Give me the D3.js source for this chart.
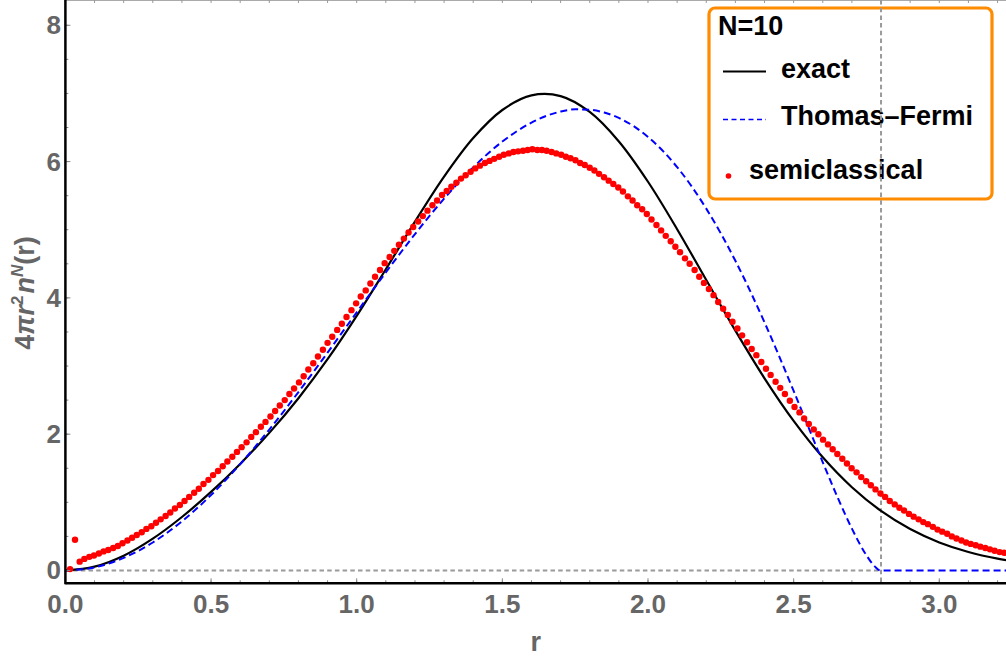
<html><head>
<title>N=10 density</title>
<script src="https://cdn.jsdelivr.net/npm/d3@7"></script>
<style>
  body { margin: 0; background: #fff; }
  text { font-family: "Liberation Sans", Arial, sans-serif; font-weight: bold; }
</style>
</head>
<body>
<div id="chart"></div>

<script>
    const svgWidth = 1006;
    const svgHeight = 657;
    const plotLeft = 65.4, plotRight = 1006, plotTop = 0, plotBottom = 583.3;

    // tick labels
    const xTicks = [0, 0.5, 1.0, 1.5, 2.0, 2.5, 3.0];
    const xTickLabels = ["0.0", "0.5", "1.0", "1.5", "2.0", "2.5", "3.0"];
    const yTicks = [0, 2, 4, 6, 8];
    const yTickLabels = ["0", "2", "4", "6", "8"];

    // exact curve (r, value)
    const exactR = [0, 0.1, 0.2, 0.3, 0.4, 0.5, 0.6, 0.7, 0.8, 0.9, 1.0, 1.1, 1.2, 1.3, 1.4, 1.5, 1.6,
        1.7, 1.8, 1.9, 2.0, 2.1, 2.2, 2.3, 2.4, 2.5, 2.6, 2.7, 2.8, 2.9, 3.0, 3.1, 3.2, 3.3];
    const exactVal = [0, 0.056, 0.217, 0.467, 0.785, 1.153, 1.564, 2.019, 2.528, 3.100, 3.736, 4.420,
        5.118, 5.779, 6.345, 6.757, 6.971, 6.961, 6.728, 6.295, 5.704, 5.008, 4.262, 3.519, 2.820,
        2.195, 1.661, 1.222, 0.874, 0.608, 0.412, 0.272, 0.175, 0.110];

    // Thomas-Fermi curve
    const tfR = [0, 0.1, 0.2, 0.3, 0.4, 0.5, 0.6, 0.7, 0.8, 0.9, 1.0, 1.1, 1.2, 1.3, 1.4, 1.5, 1.6,
        1.7, 1.75, 1.8, 1.85, 1.9, 2.0, 2.1, 2.2, 2.3, 2.4, 2.5, 2.55, 2.6, 2.65, 2.7, 2.75, 2.78, 2.798,
        2.9, 3.0, 3.1, 3.2, 3.3];
    const tfVal = [0, 0.046, 0.185, 0.411, 0.721, 1.107, 1.560, 2.068, 2.618, 3.197, 3.788, 4.374,
        4.936, 5.456, 5.915, 6.294, 6.572, 6.734, 6.767, 6.761, 6.719, 6.641, 6.362, 5.919, 5.310, 4.544, 3.640,
        2.634, 2.111, 1.588, 1.081, 0.614, 0.222, 0.053, 0,
        0, 0, 0, 0, 0];

    // semiclassical points
    const semiR = [0.016,0.033,0.049,0.065,0.082,0.098,0.115,0.131,0.147,0.164,
        0.180,0.196,0.213,0.229,0.245,0.262,0.278,0.295,0.311,0.327,
        0.344,0.360,0.376,0.393,0.409,0.425,0.442,0.458,0.474,0.491,
        0.507,0.524,0.540,0.556,0.573,0.589,0.605,0.622,0.638,0.654,
        0.671,0.687,0.704,0.720,0.736,0.753,0.769,0.785,0.802,0.818,
        0.834,0.851,0.867,0.884,0.900,0.916,0.933,0.949,0.965,0.982,
        0.998,1.014,1.031,1.047,1.063,1.080,1.096,1.113,1.129,1.145,
        1.162,1.178,1.194,1.211,1.227,1.243,1.260,1.276,1.293,1.309,
        1.325,1.342,1.358,1.374,1.391,1.407,1.423,1.440,1.456,1.472,
        1.489,1.505,1.522,1.538,1.554,1.571,1.587,1.603,1.620,1.636,
        1.652,1.669,1.685,1.702,1.718,1.734,1.751,1.767,1.783,1.800,
        1.816,1.832,1.849,1.865,1.881,1.898,1.914,1.931,1.947,1.963,
        1.980,1.996,2.012,2.029,2.045,2.061,2.078,2.094,2.110,2.127,
        2.143,2.160,2.176,2.192,2.209,2.225,2.241,2.258,2.274,2.290,
        2.307,2.323,2.340,2.356,2.372,2.389,2.405,2.421,2.438,2.454,
        2.470,2.487,2.503,2.520,2.536,2.552,2.569,2.585,2.601,2.618,
        2.634,2.650,2.667,2.683,2.699,2.716,2.732,2.749,2.765,2.781,
        2.798,2.814,2.830,2.847,2.863,2.879,2.896,2.912,2.929,2.945,
        2.961,2.978,2.994,3.010,3.027,3.043,3.059,3.076,3.092,3.108,
        3.125,3.141,3.158,3.174,3.190,3.207,3.223];
    const semiVal = [0.02,0.45,0.13,0.17,0.20,0.22,0.25,0.28,0.30,0.33,
        0.36,0.40,0.44,0.48,0.52,0.56,0.61,0.65,0.70,0.75,
        0.80,0.85,0.91,0.96,1.02,1.08,1.14,1.20,1.27,1.33,
        1.40,1.46,1.53,1.60,1.67,1.74,1.81,1.88,1.96,2.03,
        2.11,2.18,2.26,2.34,2.42,2.50,2.59,2.67,2.76,2.85,
        2.95,3.04,3.14,3.24,3.34,3.43,3.53,3.62,3.72,3.82,
        3.92,4.02,4.11,4.21,4.31,4.41,4.51,4.60,4.69,4.78,
        4.87,4.96,5.04,5.12,5.20,5.28,5.36,5.43,5.51,5.57,
        5.63,5.69,5.75,5.80,5.85,5.90,5.94,5.98,6.01,6.04,
        6.07,6.10,6.12,6.14,6.15,6.16,6.17,6.18,6.17,6.17,
        6.16,6.14,6.12,6.10,6.07,6.05,6.02,5.98,5.95,5.91,
        5.87,5.82,5.77,5.72,5.67,5.62,5.56,5.49,5.43,5.36,
        5.30,5.23,5.15,5.07,4.99,4.91,4.83,4.75,4.67,4.58,
        4.50,4.41,4.31,4.22,4.13,4.04,3.94,3.84,3.75,3.65,
        3.55,3.45,3.35,3.25,3.16,3.06,2.96,2.87,2.77,2.68,
        2.59,2.49,2.40,2.32,2.23,2.15,2.07,2.00,1.92,1.85,
        1.78,1.71,1.64,1.57,1.50,1.44,1.37,1.31,1.25,1.19,
        1.13,1.08,1.02,0.97,0.92,0.88,0.83,0.79,0.75,0.71,
        0.68,0.64,0.60,0.57,0.54,0.50,0.47,0.44,0.41,0.39,
        0.37,0.35,0.33,0.31,0.29,0.27,0.26];

    const edgeR = 2.8;   // vertical reference line
    const legendItems = ["exact", "Thomas\u2013Fermi", "semiclassical"];

    const labelGray = "#666666";

    const svg = d3.select("#chart").append("svg")
        .attr("width", svgWidth)
        .attr("height", svgHeight);

    const xScale = d3.scaleLinear().domain([0, 3.229]).range([plotLeft, plotRight]);
    const yScale = d3.scaleLinear().domain([-0.188, 8.371]).range([plotBottom, plotTop]);

    svg.append("defs").append("clipPath").attr("id", "plotclip")
        .append("rect")
        .attr("x", plotLeft).attr("y", plotTop)
        .attr("width", plotRight - plotLeft).attr("height", plotBottom - plotTop);

    // frame top (gray) with small ticks
    let frame = svg.append("g").attr("id", "frame");
    frame.append("line")
        .attr("x1", plotLeft).attr("x2", plotRight)
        .attr("y1", 0.5).attr("y2", 0.5)
        .attr("stroke", "#aaaaaa").attr("stroke-width", 1);
    frame.selectAll(".topTick")
        .data(d3.range(0.1, 3.25, 0.1))
        .enter().append("line")
        .attr("x1", d => xScale(d)).attr("x2", d => xScale(d))
        .attr("y1", 0).attr("y2", 3)
        .attr("stroke", "#999").attr("stroke-width", 1);

    // legend (drawn first; the dotted r=2.8 line runs over it)
    let legend = svg.append("g").attr("id", "legend");
    legend.append("rect")
        .attr("x", 709).attr("y", 8)
        .attr("width", 283).attr("height", 191)
        .attr("rx", 6).attr("ry", 6)
        .attr("fill", "#fff")
        .attr("stroke", "#ff8c00")
        .attr("stroke-width", 3.2);
    legend.append("text")
        .attr("x", 718).attr("y", 35)
        .attr("font-size", 27)
        .attr("fill", "#000")
        .text("N=10");

    legend.append("line")
        .attr("x1", 723).attr("x2", 766)
        .attr("y1", 71.5).attr("y2", 71.5)
        .attr("stroke", "#000").attr("stroke-width", 2);
    legend.append("text")
        .attr("x", 781).attr("y", 77.5)
        .attr("font-size", 27).attr("fill", "#000")
        .text(legendItems[0]);

    legend.append("line")
        .attr("x1", 723).attr("x2", 766)
        .attr("y1", 119.5).attr("y2", 119.5)
        .attr("stroke", "#0000ff").attr("stroke-width", 1.6)
        .attr("stroke-dasharray", "5,3.5");
    legend.append("text")
        .attr("x", 781).attr("y", 124.5)
        .attr("font-size", 27).attr("fill", "#000")
        .text(legendItems[1]);

    legend.append("circle")
        .attr("cx", 728.5).attr("cy", 176)
        .attr("r", 2.8)
        .attr("fill", "#ff0000");
    legend.append("text")
        .attr("x", 749).attr("y", 178.5)
        .attr("font-size", 27).attr("fill", "#000")
        .text(legendItems[2]);

    // reference lines
    const plot = svg.append("g").attr("clip-path", "url(#plotclip)");
    plot.append("line")
        .attr("x1", plotLeft).attr("x2", xScale(edgeR))
        .attr("y1", yScale(0)).attr("y2", yScale(0))
        .attr("stroke", "#9a9a9a").attr("stroke-width", 2)
        .attr("stroke-dasharray", "4.5,3.2");
    plot.append("line")
        .attr("x1", xScale(edgeR)).attr("x2", xScale(edgeR))
        .attr("y1", plotTop).attr("y2", plotBottom)
        .attr("stroke", "#9a9a9a").attr("stroke-width", 2)
        .attr("stroke-dasharray", "4.5,3.2");

    const smoothLine = d3.line()
        .x(d => xScale(d[0]))
        .y(d => yScale(d[1]))
        .curve(d3.curveCatmullRom.alpha(0.5));
    const edgeLine = d3.line()
        .x(d => xScale(d[0]))
        .y(d => yScale(d[1]))
        .curve(d3.curveMonotoneX);

    // exact
    plot.append("path")
        .datum(exactR.map((r, i) => [r, exactVal[i]]))
        .attr("fill", "none")
        .attr("stroke", "#000")
        .attr("stroke-width", 2.2)
        .attr("d", smoothLine);

    // Thomas-Fermi
    plot.append("path")
        .datum(tfR.map((r, i) => [r, tfVal[i]]))
        .attr("fill", "none")
        .attr("stroke", "#0000ff")
        .attr("stroke-width", 2)
        .attr("stroke-dasharray", "7,4")
        .attr("d", edgeLine);

    // semiclassical dots
    plot.selectAll(".semi")
        .data(semiR.map((r, i) => [r, semiVal[i]]))
        .enter().append("circle")
        .attr("class", "semi")
        .attr("cx", d => xScale(d[0]))
        .attr("cy", d => yScale(d[1]))
        .attr("r", 3.2)
        .attr("fill", "#ff0000");

    // axes
    let axes = svg.append("g").attr("id", "axes");
    // minor / major ticks
    axes.selectAll(".xMinor")
        .data(d3.range(0.1, 3.25, 0.1))
        .enter().append("line")
        .attr("x1", d => xScale(d)).attr("x2", d => xScale(d))
        .attr("y1", plotBottom).attr("y2", plotBottom - 3)
        .attr("stroke", "#888").attr("stroke-width", 1);
    axes.selectAll(".xMajor")
        .data(xTicks)
        .enter().append("line")
        .attr("x1", d => xScale(d)).attr("x2", d => xScale(d))
        .attr("y1", plotBottom).attr("y2", plotBottom - 5)
        .attr("stroke", "#888").attr("stroke-width", 1);
    axes.selectAll(".yMinor")
        .data(d3.range(0.5, 8.4, 0.5))
        .enter().append("line")
        .attr("x1", plotLeft).attr("x2", plotLeft + 3)
        .attr("y1", d => yScale(d)).attr("y2", d => yScale(d))
        .attr("stroke", "#888").attr("stroke-width", 1);
    axes.selectAll(".yMajor")
        .data(yTicks)
        .enter().append("line")
        .attr("x1", plotLeft).attr("x2", plotLeft + 5)
        .attr("y1", d => yScale(d)).attr("y2", d => yScale(d))
        .attr("stroke", "#888").attr("stroke-width", 1);

    axes.append("line")
        .attr("x1", plotLeft).attr("x2", plotRight)
        .attr("y1", plotBottom).attr("y2", plotBottom)
        .attr("stroke", "#000").attr("stroke-width", 2.5);
    axes.append("line")
        .attr("x1", plotLeft).attr("x2", plotLeft)
        .attr("y1", 0).attr("y2", plotBottom + 1)
        .attr("stroke", "#000").attr("stroke-width", 2.5);

    axes.selectAll(".xLabel")
        .data(xTicks)
        .enter().append("text")
        .attr("x", d => xScale(d))
        .attr("y", 613)
        .attr("text-anchor", "middle")
        .attr("font-size", 26)
        .attr("fill", labelGray)
        .text((d, i) => xTickLabels[i]);

    axes.selectAll(".yLabel")
        .data(yTicks)
        .enter().append("text")
        .attr("x", 61)
        .attr("y", d => yScale(d) + 9)
        .attr("text-anchor", "end")
        .attr("font-size", 26)
        .attr("fill", labelGray)
        .text((d, i) => yTickLabels[i]);

    // axis titles
    svg.append("text")
        .attr("x", (plotLeft + plotRight) / 2)
        .attr("y", 651)
        .attr("text-anchor", "middle")
        .attr("font-size", 27)
        .attr("fill", labelGray)
        .text("r");

    let yTitle = svg.append("text")
        .attr("transform", "translate(34," + 293 + ") rotate(-90)")
        .attr("text-anchor", "middle")
        .attr("font-size", 27)
        .attr("fill", labelGray);
    yTitle.append("tspan").text("4");
    yTitle.append("tspan").attr("font-style", "italic").text("\u03c0");
    yTitle.append("tspan").attr("font-style", "italic").text("r");
    yTitle.append("tspan").attr("font-size", 17).attr("dy", -11).text("2");
    yTitle.append("tspan").attr("font-style", "italic").attr("dy", 11).attr("dx", 2).text("n");
    yTitle.append("tspan").attr("font-style", "italic").attr("font-size", 17).attr("dy", -11).text("N");
    yTitle.append("tspan").attr("dy", 11).text("(r)");
</script>
</body></html>
